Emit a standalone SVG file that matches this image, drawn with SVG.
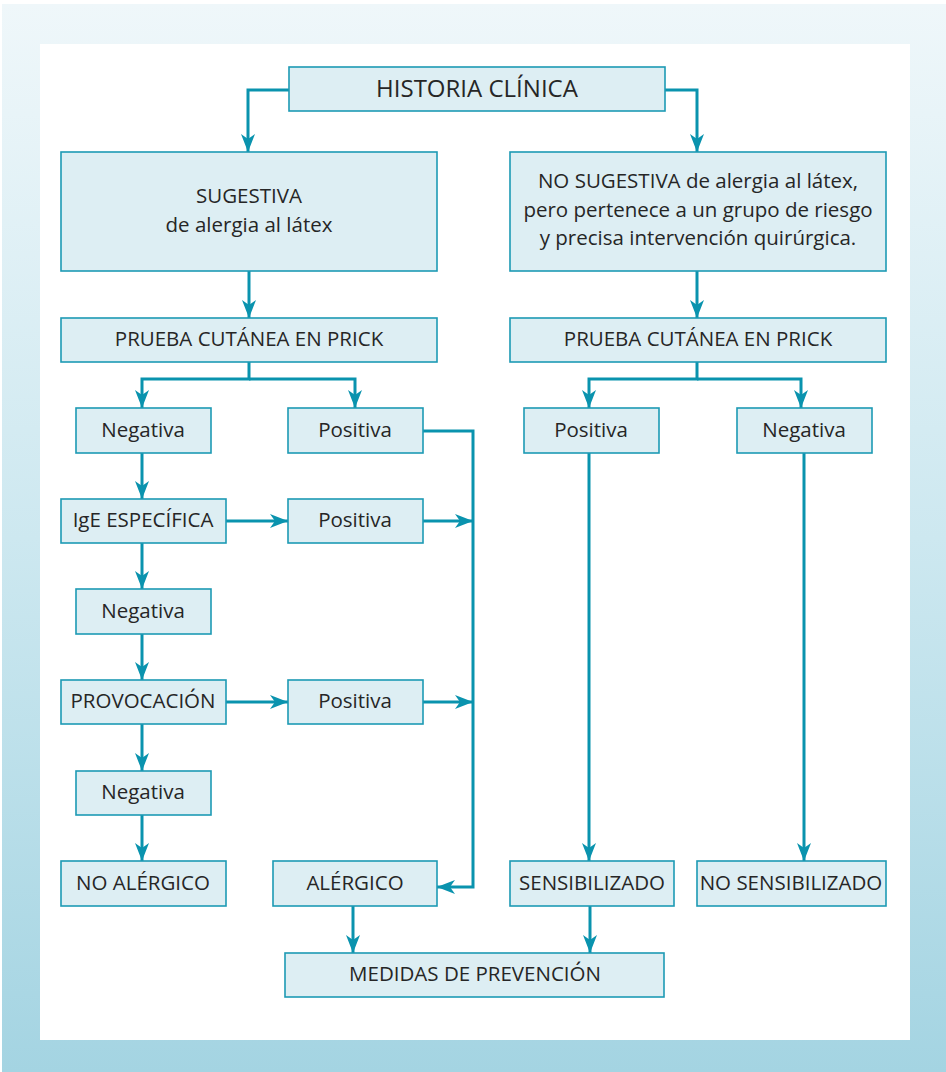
<svg xmlns="http://www.w3.org/2000/svg" width="946" height="1072" viewBox="0 0 946 1072">
<style>
.box{fill:#ddeef3;stroke:#1d9ab4;stroke-width:1.6}
.t{font-family:"Open Sans","Liberation Sans",sans-serif;font-size:20.5px;fill:#262626;text-anchor:middle}
.h{font-size:24px}
.c{fill:none;stroke:#0a93ae;stroke-width:3}
</style>
<defs>
<linearGradient id="bg" x1="0" y1="0" x2="0" y2="1">
<stop offset="0" stop-color="#eff7fa"/>
<stop offset="0.5" stop-color="#cde8f0"/>
<stop offset="1" stop-color="#a4d4e2"/>
</linearGradient>
<marker id="ar" markerUnits="userSpaceOnUse" markerWidth="20" markerHeight="14" refX="18" refY="7" orient="auto" viewBox="0 0 20 14">
<path d="M0,0 L18,7 L0,14 L5,7 z" fill="#0a93ae"/>
</marker>
</defs>
<rect x="2" y="4" width="944" height="1068" fill="url(#bg)"/>
<rect x="40" y="44" width="870" height="996" fill="#ffffff"/>

<g id="connectors">
<path class="c" d="M289,90 H248 V152" marker-end="url(#ar)"/>
<path class="c" d="M665,90 H697 V152" marker-end="url(#ar)"/>
<path class="c" d="M249,271 V318" marker-end="url(#ar)"/>
<path class="c" d="M697,271 V318" marker-end="url(#ar)"/>
<path class="c" d="M249,362 V379 H142 V408" marker-end="url(#ar)"/>
<path class="c" d="M249,379 H355 V408" marker-end="url(#ar)"/>
<path class="c" d="M697,362 V379 H589 V408" marker-end="url(#ar)"/>
<path class="c" d="M697,379 H801 V408" marker-end="url(#ar)"/>
<path class="c" d="M142,453 V499" marker-end="url(#ar)"/>
<path class="c" d="M226,521 H288" marker-end="url(#ar)"/>
<path class="c" d="M423,521 H473" marker-end="url(#ar)"/>
<path class="c" d="M423,431 H473 V887 H437" marker-end="url(#ar)"/>
<path class="c" d="M142,543 V589" marker-end="url(#ar)"/>
<path class="c" d="M142,634 V680" marker-end="url(#ar)"/>
<path class="c" d="M226,702 H288" marker-end="url(#ar)"/>
<path class="c" d="M423,702 H473" marker-end="url(#ar)"/>
<path class="c" d="M142,724 V771" marker-end="url(#ar)"/>
<path class="c" d="M142,815 V861" marker-end="url(#ar)"/>
<path class="c" d="M589,453 V861" marker-end="url(#ar)"/>
<path class="c" d="M804,453 V861" marker-end="url(#ar)"/>
<path class="c" d="M353,906 V953" marker-end="url(#ar)"/>
<path class="c" d="M590,906 V953" marker-end="url(#ar)"/>
</g>

<g id="historia"><rect class="box" x="289" y="67" width="376" height="44"/><text class="t h" x="477" y="97">HISTORIA CLÍNICA</text></g>
<g id="sugestiva"><rect class="box" x="61" y="152" width="376" height="119"/><text class="t" x="249" y="203">SUGESTIVA</text><text class="t" x="249" y="232">de alergia al látex</text></g>
<g id="nosugestiva"><rect class="box" x="510" y="152" width="376" height="119"/><text class="t" x="698" y="188">NO SUGESTIVA de alergia al látex,</text><text class="t" x="698" y="217">pero pertenece a un grupo de riesgo</text><text class="t" x="698" y="245">y precisa intervención quirúrgica.</text></g>
<g id="pruebaL"><rect class="box" x="61" y="318" width="376" height="44"/><text class="t" x="249" y="346">PRUEBA CUTÁNEA EN PRICK</text></g>
<g id="pruebaR"><rect class="box" x="510" y="318" width="376" height="44"/><text class="t" x="698" y="346">PRUEBA CUTÁNEA EN PRICK</text></g>
<g id="negL1"><rect class="box" x="76" y="408" width="135" height="45"/><text class="t" x="143" y="437">Negativa</text></g>
<g id="posL1"><rect class="box" x="288" y="408" width="135" height="45"/><text class="t" x="355" y="437">Positiva</text></g>
<g id="posR"><rect class="box" x="524" y="408" width="135" height="45"/><text class="t" x="591" y="437">Positiva</text></g>
<g id="negR"><rect class="box" x="737" y="408" width="135" height="45"/><text class="t" x="804" y="437">Negativa</text></g>
<g id="ige"><rect class="box" x="61" y="499" width="165" height="44"/><text class="t" x="143" y="527">IgE ESPECÍFICA</text></g>
<g id="posL2"><rect class="box" x="288" y="499" width="135" height="44"/><text class="t" x="355" y="527">Positiva</text></g>
<g id="negL2"><rect class="box" x="76" y="589" width="135" height="45"/><text class="t" x="143" y="618">Negativa</text></g>
<g id="provocacion"><rect class="box" x="61" y="680" width="165" height="44"/><text class="t" x="143" y="708">PROVOCACIÓN</text></g>
<g id="posL3"><rect class="box" x="288" y="680" width="135" height="44"/><text class="t" x="355" y="708">Positiva</text></g>
<g id="negL3"><rect class="box" x="76" y="771" width="135" height="44"/><text class="t" x="143" y="799">Negativa</text></g>
<g id="noalergico"><rect class="box" x="61" y="861" width="165" height="45"/><text class="t" x="143" y="890">NO ALÉRGICO</text></g>
<g id="alergico"><rect class="box" x="273" y="861" width="164" height="45"/><text class="t" x="355" y="890">ALÉRGICO</text></g>
<g id="sensibilizado"><rect class="box" x="510" y="861" width="164" height="45"/><text class="t" x="592" y="890">SENSIBILIZADO</text></g>
<g id="nosensibilizado"><rect class="box" x="697" y="861" width="189" height="45"/><text class="t" x="791" y="890">NO SENSIBILIZADO</text></g>
<g id="medidas"><rect class="box" x="285" y="953" width="379" height="44"/><text class="t" x="475" y="981">MEDIDAS DE PREVENCIÓN</text></g>
</svg>
